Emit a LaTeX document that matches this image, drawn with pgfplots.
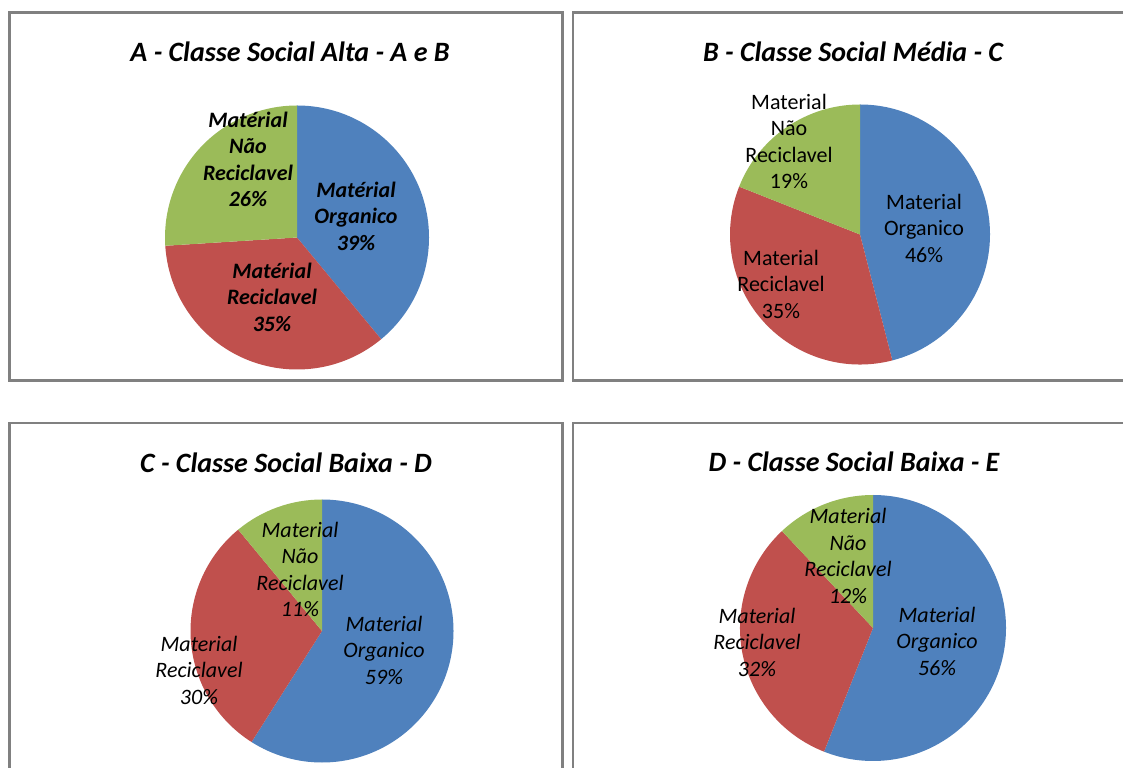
\documentclass[border=0pt]{standalone}
\usepackage{pgfplots}
\usepackage{pgfplotstable}
\pgfplotsset{compat=1.18}
\usepackage{fontspec}
\setmainfont{Carlito}

\definecolor{orgblue}{HTML}{4F81BD}
\definecolor{recred}{HTML}{C0504D}
\definecolor{nrgreen}{HTML}{9BBB59}
\definecolor{framegray}{RGB}{128,128,128}

% shares (%) of each material, with label offsets from the pie centre
\pgfplotstableread[col sep=comma]{
share,lx,ly
39,59,21.5
35,-25,-59.5
26,-49,78
}\pieA
\pgfplotstableread[col sep=comma]{
share,lx,ly
46,64,6.5
35,-79,-49.5
19,-71,93
}\pieB
\pgfplotstableread[col sep=comma]{
share,lx,ly
59,62,-19
30,-123,-39
11,-22,61.5
}\pieC
\pgfplotstableread[col sep=comma]{
share,lx,ly
56,64,-13
32,-116,-14
12,-25,72
}\pieD

% #1 table, #2 radius, #3 label font, #4-#6 slice names
\newcommand\drawpie[6]{%
  \pgfplotsextra{%
    \gdef\pieang{90}%
    \foreach \i/\c in {0/orgblue,1/recred,2/nrgreen}{%
      \pgfplotstablegetelem{\i}{share}\of#1\let\p\pgfplotsretval
      \pgfmathsetmacro\b{\pieang-3.6*\p}%
      \fill[\c] (axis cs:0,0) -- (axis cs:{#2*cos(\pieang)},{#2*sin(\pieang)})
        arc[start angle=\pieang, end angle=\b, radius=#2*0.75pt] -- cycle;
      \xdef\pieang{\b}%
    }%
    \foreach \i/\name in {0/{#4},1/{#5},2/{#6}}{%
      \pgfplotstablegetelem{\i}{share}\of#1\let\p\pgfplotsretval
      \pgfplotstablegetelem{\i}{lx}\of#1\let\lx\pgfplotsretval
      \pgfplotstablegetelem{\i}{ly}\of#1\let\ly\pgfplotsretval
      \node[align=center, inner sep=0pt, font=#3\fontsize{16.5}{19.9}\selectfont]
        at (axis cs:\lx,\ly) {\name\\\p\%};
    }%
  }%
}

\pgfplotsset{pieaxis/.style={anchor=center, x=0.75pt, y=0.75pt,
  xmin=-135, xmax=135, ymin=-135, ymax=135, hide axis, clip=false}}

\begin{document}
\begin{tikzpicture}[x=0.75pt, y=0.75pt]
\useasboundingbox (0,0) rectangle (1123,767);
\clip (0,0) rectangle (1123,767);
\fill[white] (0,0) rectangle (1123,767);

% panel frames
\draw[framegray, line width=1.6pt] (9.5,386.5) rectangle (562.5,754.5);
\draw[framegray, line width=1.6pt] (573,386.5) rectangle (1140,754.5);
\draw[framegray, line width=1.6pt] (9.5,344) rectangle (562.5,-20);
\draw[framegray, line width=1.6pt] (573,344) rectangle (1140,-20);

% titles
\begin{scope}[every node/.style={font=\bfseries\itshape\fontsize{21}{25}\selectfont, inner sep=0pt}]
\node at (290,715) {A - Classe Social Alta - A e B};
\node at (853,715) {B - Classe Social Média - C};
\node at (286,304) {C - Classe Social Baixa - D};
\node at (854,305) {D - Classe Social Baixa - E};
\end{scope}

\begin{axis}[pieaxis, at={(222.75pt,397.125pt)}]
\drawpie{\pieA}{132}{\bfseries\itshape}{Matérial\\Organico}{Matérial\\Reciclavel}{Matérial\\Não\\Reciclavel}
\end{axis}

\begin{axis}[pieaxis, at={(645pt,399.375pt)}]
\drawpie{\pieB}{130}{}{Material\\Organico}{Material\\Reciclavel}{Material\\Não\\Reciclavel}
\end{axis}

\begin{axis}[pieaxis, at={(241.5pt,102pt)}]
\drawpie{\pieC}{131.5}{\itshape}{Material\\Organico}{Material\\Reciclavel}{Material\\Não\\Reciclavel}
\end{axis}

\begin{axis}[pieaxis, at={(654.75pt,104.25pt)}]
\drawpie{\pieD}{133}{\itshape}{Material\\Organico}{Material\\Reciclavel}{Material\\Não\\Reciclavel}
\end{axis}
\end{tikzpicture}
\end{document}
